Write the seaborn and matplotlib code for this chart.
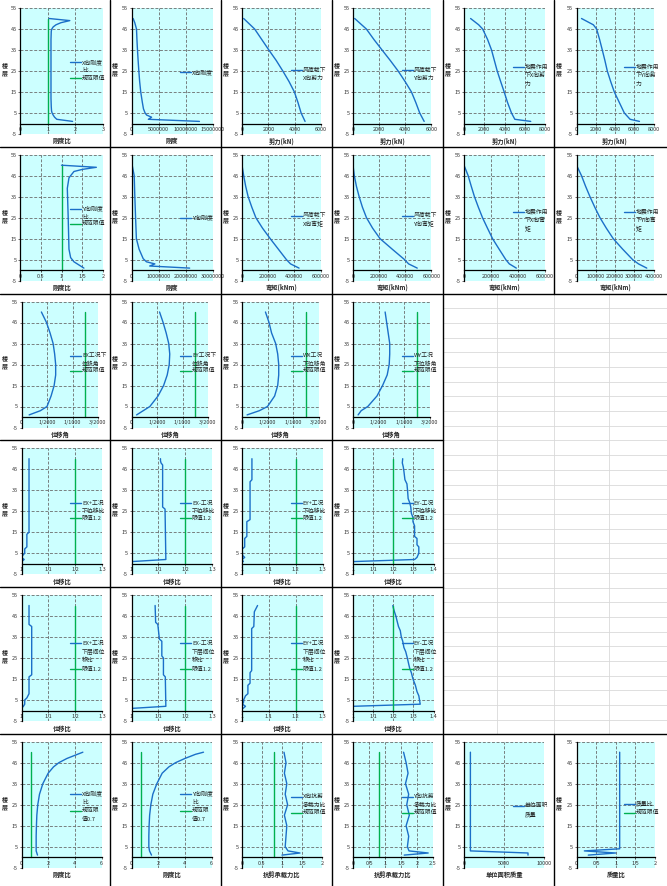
import matplotlib.pyplot as plt
import seaborn as sns
from matplotlib.lines import Line2D

sns.set_style("white")
plt.rcParams['font.family'] = ['Noto Sans CJK SC', 'DejaVu Sans']

# ---------------- 数据 ----------------
# 刚度比
kx_ratio_floor = [1, 2, 3, 4, 5, 6, 8, 12, 20, 30, 40, 44, 45, 46, 47, 48, 49, 50]
kx_ratio = [1.9, 1.33, 1.25, 1.2, 1.16, 1.14, 1.13, 1.12, 1.12, 1.12, 1.12, 1.13, 1.15, 1.2, 1.3, 1.48, 1.8, 1.05]
ky_ratio_floor = [1, 2, 4, 6, 10, 26, 39, 44, 47, 48, 49, 50]
ky_ratio = [1.54, 1.46, 1.3, 1.22, 1.18, 1.16, 1.14, 1.18, 1.3, 1.5, 1.84, 1.0]
ratio_limit = [1, 1]
limit_floor = [0, 50]

# 刚度
kx_floor = [1, 2, 3, 4, 5, 7, 10, 15, 20, 25, 30, 35, 40, 45, 48, 50]
kx = [12.5e6, 3.1e6, 3.7e6, 2.8e6, 2.5e6, 2.2e6, 2.0e6, 1.7e6, 1.5e6, 1.35e6, 1.22e6, 1.1e6, 1.0e6, 0.92e6, 0.6e6, 0.3e6]
ky_floor = [1, 2, 3, 4, 5.5, 10, 15, 25, 36, 45, 50]
ky = [21.4e6, 6.7e6, 8.6e6, 5.5e6, 4.3e6, 2.8e6, 1.8e6, 1.5e6, 1.2e6, 1.0e6, 0.25e6]

# 风荷载 / 地震作用下剪力 (kN)
shear_floor = [1, 5, 10, 15, 20, 25, 30, 35, 40, 45, 50]
wind_vx = [4790, 4490, 4250, 3980, 3570, 3100, 2600, 2040, 1500, 960, 126]
wind_vy = [5440, 5100, 4800, 4470, 3980, 3450, 2850, 2220, 1600, 1020, 128]
eq_shear_floor = [1, 2, 5, 10, 15, 20, 25, 30, 35, 40, 45, 47, 50]
eq_vx = [6590, 5020, 4690, 4300, 3970, 3620, 3280, 3000, 2720, 2330, 1840, 1450, 650]
eq_vy = [6540, 5570, 4970, 4450, 3930, 3550, 3200, 2950, 2680, 2400, 2090, 1750, 520]

# 弯矩 (kNm)
moment_floor = [1, 3, 5, 10, 15, 20, 25, 30, 35, 40, 45, 50]
wind_mx = [436000, 371000, 340000, 278000, 216000, 157000, 106000, 75000, 47000, 28000, 13000, 0]
wind_my = [491000, 425000, 395000, 300000, 207000, 150000, 103000, 72000, 47000, 26000, 10000, 0]
eq_mx = [390000, 338000, 312000, 262000, 213000, 175000, 138000, 107000, 78000, 54000, 31000, 0]
eq_my = [365000, 322000, 292000, 240000, 191000, 155000, 122000, 95000, 70000, 47000, 26000, 0]

# 位移角
drift_floor = [1, 3, 5, 10, 15, 20, 25, 30, 35, 40, 45, 50]
drift_ex = [0.00015, 0.00037, 0.0005, 0.00058, 0.00064, 0.00067, 0.00067, 0.00065, 0.00062, 0.00056, 0.00049, 0.00039]
drift_ey = [0.0001, 0.00023, 0.00036, 0.00052, 0.00063, 0.0007, 0.00074, 0.00075, 0.00073, 0.00068, 0.00062, 0.00055]
drift_wx = [0.0001, 0.00034, 0.0005, 0.00064, 0.0007, 0.00072, 0.00072, 0.0007, 0.00066, 0.00058, 0.00053, 0.00046]
drift_wy = [0.0001, 0.00016, 0.00029, 0.00047, 0.00058, 0.00067, 0.00071, 0.00072, 0.00072, 0.00069, 0.00066, 0.00063]
drift_limit = [1 / 800, 1 / 800]

# 位移比
dr_exp_floor = [1, 2, 3, 4, 5, 7, 8, 14, 15, 50]
dr_exp = [1.0, 1.01, 1.0, 1.005, 1.012, 1.012, 1.02, 1.02, 1.028, 1.028]
dr_exm_floor = [1, 2, 26, 27, 47, 48, 49, 50]
dr_exm = [1.0, 1.128, 1.125, 1.116, 1.116, 1.11, 1.108, 1.108]
dr_eyp_floor = [1, 2, 3, 4, 7, 8, 12, 13, 20, 21, 39, 40, 50]
dr_eyp = [1.005, 1.0, 1.01, 1.002, 1.001, 1.01, 1.01, 1.018, 1.018, 1.03, 1.03, 1.037, 1.037]
dr_eym_floor = [1, 2, 3, 5, 8, 9, 12, 13, 18, 20, 22, 24, 27, 29, 31, 35, 38, 40, 44, 46, 48, 50]
dr_eym = [1.0, 1.306, 1.318, 1.327, 1.327, 1.318, 1.318, 1.306, 1.306, 1.298, 1.298, 1.29, 1.287, 1.282,
          1.274, 1.271, 1.268, 1.258, 1.253, 1.25, 1.245, 1.247]
ratio12_limit = [1.2, 1.2]

# 层间位移比
sr_exp_floor = [1, 2, 3, 5, 6, 8, 16, 17, 40, 41, 50]
sr_exp = [1.0, 1.007, 1.012, 1.012, 1.02, 1.028, 1.028, 1.038, 1.038, 1.028, 1.028]
sr_exm_floor = [1, 2, 16, 17, 25, 26, 33, 34, 41, 42, 50]
sr_exm = [1.0, 1.128, 1.126, 1.119, 1.119, 1.113, 1.113, 1.104, 1.098, 1.09, 1.088]
sr_eyp_floor = [1, 2, 3, 4, 5, 7, 8, 12, 13, 18, 19, 39, 40, 47, 49, 50]
sr_eyp = [1.004, 1.013, 1.002, 1.006, 1.006, 1.013, 1.022, 1.022, 1.03, 1.03, 1.036, 1.036, 1.044, 1.046, 1.054, 1.058]
sr_eym_floor = [2, 3, 7, 9, 12, 15, 18, 20, 22, 25, 28, 30, 33, 35, 38, 40, 43, 45, 47, 49, 50]
sr_eym = [1.0, 1.334, 1.327, 1.318, 1.31, 1.298, 1.29, 1.282, 1.277, 1.27, 1.262, 1.253, 1.247, 1.24, 1.235,
          1.226, 1.218, 1.213, 1.206, 1.2, 1.198]

# 楼层刚度比(规范)、抗剪承载力比、质量
kx2_floor = [1, 3, 5, 10, 15, 20, 25, 30, 35, 40, 43, 45, 47, 49, 50]
kx2 = [1.2, 1.1, 1.1, 1.1, 1.12, 1.15, 1.22, 1.35, 1.6, 2.0, 2.4, 2.8, 3.4, 4.2, 4.6]
ky2 = [1.5, 1.35, 1.3, 1.3, 1.32, 1.36, 1.45, 1.6, 1.9, 2.3, 2.8, 3.3, 4.0, 4.8, 5.4]
kx2_limit = [0.7, 0.7]
shear_cap_floor = [1, 2, 3, 5, 10, 15, 20, 25, 30, 35, 40, 45, 50]
shear_cap_x = [1.0, 1.45, 1.15, 1.08, 1.1, 1.12, 1.06, 1.14, 1.08, 1.12, 1.06, 1.1, 1.05]
shear_cap_y = [1.6, 2.35, 1.75, 1.7, 1.74, 1.66, 1.76, 1.68, 1.74, 1.64, 1.72, 1.66, 1.58]
shear_cap_limit = [0.8, 0.8]
mass_floor = [1, 2, 3, 50]
unit_mass = [8000, 8000, 800, 800]
mass_ratio_floor = [1, 2, 3, 4, 50]
mass_ratio = [0.3, 1.0, 0.2, 1.1, 1.1]

# ---------------- 版式 ----------------
W, H = 667, 886
fig = plt.figure(figsize=(W / 100, H / 100), dpi=100)
col_x = [0, 110, 220.5, 331.5, 442.5, 553.5, 667]
row_y = [0, 146.7, 293.5, 440.2, 587, 733.7, 886]
BLUE = '#1b6fc8'
GREEN = '#00b050'
ytick_vals = [-5, 5, 15, 25, 35, 45, 55]


def fmt(v):
    return f'{v:g}'


def add_panel(r, c, lines, xlim, xticks, xlabels, xlabel, legend, left=21.5, right=101.5):
    x0, y0 = col_x[c], row_y[r]
    ax = fig.add_axes([(x0 + left) / W, 1 - (y0 + 134) / H, (right - left) / W, 126 / H])
    ax.set_facecolor('#ccffff')
    for xs, ys, color in lines:
        sns.lineplot(x=xs, y=ys, estimator=None, sort=False, color=color, linewidth=1.0, ax=ax)
    ax.set_xlim(*xlim)
    ax.set_ylim(-5, 55)
    ax.set_xticks(xticks)
    ax.set_xticklabels(xlabels)
    ax.set_yticks(ytick_vals)
    ax.set_yticklabels([str(v) for v in ytick_vals])
    ax.set_axisbelow(True)
    ax.grid(True, color='#6b6b6b', linestyle=(0, (3.5, 2)), linewidth=0.6)
    for s in ['top', 'right']:
        ax.spines[s].set_visible(False)
    ax.spines['bottom'].set_position(('data', 0))
    for s in ['bottom', 'left']:
        ax.spines[s].set_color('black')
        ax.spines[s].set_linewidth(0.9)
    ax.tick_params(labelsize=4, length=1.5, width=0.5, pad=1, bottom=True, left=True, colors='#333333')
    ax.set_xlabel('')
    ax.set_ylabel('')
    fig.text((x0 + 5) / W, 1 - (y0 + 69) / H, '楼\n层', fontsize=4.3, weight='bold',
             ha='center', va='center', linespacing=1.05)
    fig.text((x0 + (left + right) / 2) / W, 1 - (y0 + 141) / H, xlabel, fontsize=4.5,
             weight='bold', ha='center', va='center')
    for color, txt, ly in legend:
        fig.add_artist(Line2D([(x0 + 70) / W, (x0 + 81) / W], [1 - (y0 + ly) / H] * 2,
                              color=color, linewidth=1.0))
        for i, t in enumerate(txt):
            fig.text((x0 + 82) / W, 1 - (y0 + ly + i * 8.5) / H, t, fontsize=4.2, va='center',
                     color='#222222')
    return ax


ticks_small = [1, 1.1, 1.2, 1.3]
ticks_small4 = [1, 1.1, 1.2, 1.3, 1.4]
drift_ticks = [0, 0.0005, 0.001, 0.0015]
drift_labels = ['0', '1/2000', '1/1000', '3/2000']

# 第一行
add_panel(0, 0, [(ratio_limit, limit_floor, GREEN), (kx_ratio, kx_ratio_floor, BLUE)], (0, 3), [0, 1, 2, 3],
          ['0', '1', '2', '3'], '刚度比', [(BLUE, ['X向刚度', '比'], 62), (GREEN, ['规范限值'], 78)], left=20, right=103)
add_panel(0, 1, [(kx, kx_floor, BLUE)], (0, 15e6), [0, 5e6, 10e6, 15e6], ['0', '5000000', '10000000', '15000000'],
          '刚度', [(BLUE, ['X向刚度'], 72)], right=103)
add_panel(0, 2, [(wind_vx, shear_floor, BLUE)], (0, 6000), [0, 2000, 4000, 6000], ['0', '2000', '4000', '6000'],
          '剪力(kN)', [(BLUE, ['风荷载下', 'X向剪力'], 70)], right=100.5)
add_panel(0, 3, [(wind_vy, shear_floor, BLUE)], (0, 6000), [0, 2000, 4000, 6000], ['0', '2000', '4000', '6000'],
          '剪力(kN)', [(BLUE, ['风荷载下', 'Y向剪力'], 70)], right=100)
add_panel(0, 4, [(eq_vx, eq_shear_floor, BLUE)], (0, 8000), [0, 2000, 4000, 6000, 8000],
          ['0', '2000', '4000', '6000', '8000'], '剪力(kN)', [(BLUE, ['地震作用', '下X向剪', '力'], 67)], right=102.5)
add_panel(0, 5, [(eq_vy, eq_shear_floor, BLUE)], (0, 8000), [0, 2000, 4000, 6000, 8000],
          ['0', '2000', '4000', '6000', '8000'], '剪力(kN)', [(BLUE, ['地震作用', '下Y向剪', '力'], 67)], left=23, right=100)

# 第二行
add_panel(1, 0, [(ratio_limit, limit_floor, GREEN), (ky_ratio, ky_ratio_floor, BLUE)], (0, 2), [0, 0.5, 1, 1.5, 2],
          ['0', '0.5', '1', '1.5', '2'], '刚度比', [(BLUE, ['Y向刚度', '比'], 62), (GREEN, ['规范限值'], 77)],
          left=20, right=103)
add_panel(1, 1, [(ky, ky_floor, BLUE)], (0, 30e6), [0, 10e6, 20e6, 30e6], ['0', '10000000', '20000000', '30000000'],
          '刚度', [(BLUE, ['Y向刚度'], 71)], right=103)
add_panel(1, 2, [(wind_mx, moment_floor, BLUE)], (0, 600000), [0, 200000, 400000, 600000],
          ['0', '200000', '400000', '600000'], '弯矩(kNm)', [(BLUE, ['风荷载下', 'X向弯矩'], 69)], right=100)
add_panel(1, 3, [(wind_my, moment_floor, BLUE)], (0, 600000), [0, 200000, 400000, 600000],
          ['0', '200000', '400000', '600000'], '弯矩(kNm)', [(BLUE, ['风荷载下', 'Y向弯矩'], 69)], right=100)
add_panel(1, 4, [(eq_mx, moment_floor, BLUE)], (0, 600000), [0, 200000, 400000, 600000],
          ['0', '200000', '400000', '600000'], '弯矩(kNm)', [(BLUE, ['地震作用', '下X向弯', '矩'], 65)], right=102)
add_panel(1, 5, [(eq_my, moment_floor, BLUE)], (0, 400000), [0, 100000, 200000, 300000, 400000],
          ['0', '100000', '200000', '300000', '400000'], '弯矩(kNm)', [(BLUE, ['地震作用', '下Y向弯', '矩'], 65)],
          left=23, right=100)

# 第三行 位移角
for c, (vals, name) in enumerate([(drift_ex, ['EX工况下', '位移角']), (drift_ey, ['EY工况下', '位移角']),
                                  (drift_wx, ['WX工况', '下位移角']), (drift_wy, ['WY工况', '下位移角'])]):
    add_panel(2, c, [(vals, drift_floor, BLUE), (drift_limit, limit_floor, GREEN)], (0, 0.0015), drift_ticks,
              drift_labels, '位移角', [(BLUE, name, 62), (GREEN, ['规范限值'], 77)], right=98)

# 第四行 位移比
for c, (vals, fl, name, tk) in enumerate([(dr_exp, dr_exp_floor, 'EX+工况', ticks_small),
                                          (dr_exm, dr_exm_floor, 'EX-工况', ticks_small),
                                          (dr_eyp, dr_eyp_floor, 'EY+工况', ticks_small),
                                          (dr_eym, dr_eym_floor, 'EY-工况', ticks_small4)]):
    add_panel(3, c, [(vals, fl, BLUE), (ratio12_limit, limit_floor, GREEN)], (tk[0], tk[-1]), tk,
              [fmt(t) for t in tk], '位移比', [(BLUE, [name, '下位移比'], 63), (GREEN, ['限值1.2'], 78)],
              right=102)

# 第五行 层间位移比
for c, (vals, fl, name, tk) in enumerate([(sr_exp, sr_exp_floor, 'EX+工况', ticks_small),
                                          (sr_exm, sr_exm_floor, 'EX-工况', ticks_small),
                                          (sr_eyp, sr_eyp_floor, 'EY+工况', ticks_small),
                                          (sr_eym, sr_eym_floor, 'EY-工况', ticks_small4)]):
    add_panel(4, c, [(vals, fl, BLUE), (ratio12_limit, limit_floor, GREEN)], (tk[0], tk[-1]), tk,
              [fmt(t) for t in tk], '位移比', [(BLUE, [name, '下层间位', '移比'], 56), (GREEN, ['限值1.2'], 82)],
              right=102)

# 第六行
add_panel(5, 0, [(kx2, kx2_floor, BLUE), (kx2_limit, limit_floor, GREEN)], (0, 6), [0, 2, 4, 6],
          ['0', '2', '4', '6'], '刚度比', [(BLUE, ['X向刚度', '比'], 60), (GREEN, ['规范限', '值0.7'], 77)])
add_panel(5, 1, [(ky2, kx2_floor, BLUE), (kx2_limit, limit_floor, GREEN)], (0, 6), [0, 2, 4, 6],
          ['0', '2', '4', '6'], '刚度比', [(BLUE, ['Y向刚度', '比'], 60), (GREEN, ['规范限', '值0.7'], 77)])
add_panel(5, 2, [(shear_cap_x, shear_cap_floor, BLUE), (shear_cap_limit, limit_floor, GREEN)], (0, 2),
          [0, 0.5, 1, 1.5, 2], ['0', '0.5', '1', '1.5', '2'], '抗剪承载力比',
          [(BLUE, ['X向抗剪', '承载力比'], 63), (GREEN, ['规范限值'], 79)])
add_panel(5, 3, [(shear_cap_y, shear_cap_floor, BLUE), (shear_cap_limit, limit_floor, GREEN)], (0, 2.5),
          [0, 0.5, 1, 1.5, 2, 2.5], ['0', '0.5', '1', '1.5', '2', '2.5'], '抗剪承载力比',
          [(BLUE, ['Y向抗剪', '承载力比'], 63), (GREEN, ['规范限值'], 79)])
add_panel(5, 4, [(unit_mass, mass_floor, BLUE)], (0, 10000), [0, 5000, 10000], ['0', '5000', '10000'],
          '单位面积质量', [(BLUE, ['单位面积', '质量'], 72)])
add_panel(5, 5, [(mass_ratio, mass_ratio_floor, BLUE)], (0, 2),
          [0, 0.5, 1, 1.5, 2], ['0', '0.5', '1', '1.5', '2'], '质量比',
          [(BLUE, ['质量比'], 70), (GREEN, ['规范限值'], 79)], left=23)

# 空白区域的表格网格
gy = row_y[2]
while gy < row_y[5]:
    fig.add_artist(Line2D([col_x[4] / W, 1], [1 - gy / H] * 2, color='#d9d9d9', linewidth=0.6))
    gy += 14.7
for gx in [col_x[4], 497, 553.5, 609]:
    fig.add_artist(Line2D([gx / W] * 2, [1 - row_y[2] / H, 1 - row_y[5] / H], color='#d9d9d9', linewidth=0.6))


# 单元格边框
def hline(y, xa, xb):
    fig.add_artist(Line2D([xa / W, xb / W], [1 - y / H] * 2, color='black', linewidth=1.0))


def vline(x, ya, yb):
    fig.add_artist(Line2D([x / W] * 2, [1 - ya / H, 1 - yb / H], color='black', linewidth=1.0))


for y in [row_y[1], row_y[2], row_y[5]]:
    hline(y, 0, W)
for y in [row_y[3], row_y[4]]:
    hline(y, 0, col_x[4])
for x in col_x[1:5]:
    vline(x, 0, H)
vline(col_x[5], 0, row_y[2])
vline(col_x[5], row_y[5], H)

fig.savefig('out.png', dpi=100)
